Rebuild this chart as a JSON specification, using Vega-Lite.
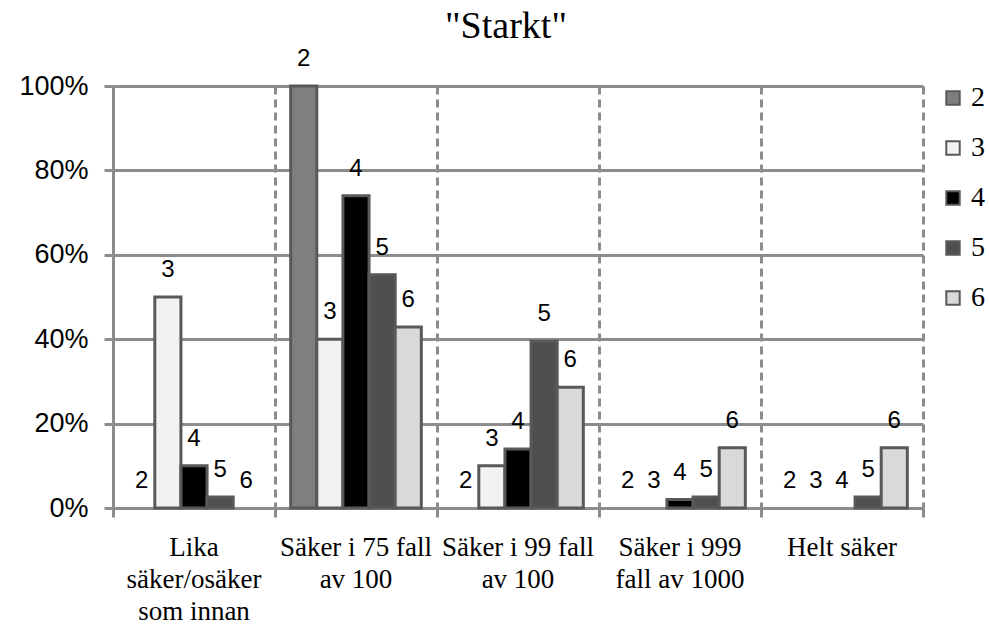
{
  "$schema": "https://vega.github.io/schema/vega-lite/v6.json",
  "width": 810,
  "height": 422,
  "autosize": {"type": "none"},
  "padding": {"left": 113, "top": 86, "right": 66, "bottom": 118},
  "background": "white",
  "config": {"view": {"stroke": null}},
  "title": {"text": "\"Starkt\"", "font": "Liberation Serif", "fontSize": 38, "fontWeight": "normal", "color": "black", "anchor": "middle", "offset": 1, "dx": -12},
  "data": {"values": [
    {"kategori": "Lika|säker/osäker|som innan", "serie": "2", "andel": 0},
    {"kategori": "Lika|säker/osäker|som innan", "serie": "3", "andel": 50},
    {"kategori": "Lika|säker/osäker|som innan", "serie": "4", "andel": 10},
    {"kategori": "Lika|säker/osäker|som innan", "serie": "5", "andel": 2.6},
    {"kategori": "Lika|säker/osäker|som innan", "serie": "6", "andel": 0},
    {"kategori": "Säker i 75 fall|av 100", "serie": "2", "andel": 100},
    {"kategori": "Säker i 75 fall|av 100", "serie": "3", "andel": 40},
    {"kategori": "Säker i 75 fall|av 100", "serie": "4", "andel": 74},
    {"kategori": "Säker i 75 fall|av 100", "serie": "5", "andel": 55.3},
    {"kategori": "Säker i 75 fall|av 100", "serie": "6", "andel": 42.9},
    {"kategori": "Säker i 99 fall|av 100", "serie": "2", "andel": 0},
    {"kategori": "Säker i 99 fall|av 100", "serie": "3", "andel": 10},
    {"kategori": "Säker i 99 fall|av 100", "serie": "4", "andel": 14},
    {"kategori": "Säker i 99 fall|av 100", "serie": "5", "andel": 39.5},
    {"kategori": "Säker i 99 fall|av 100", "serie": "6", "andel": 28.6},
    {"kategori": "Säker i 999|fall av 1000", "serie": "2", "andel": 0},
    {"kategori": "Säker i 999|fall av 1000", "serie": "3", "andel": 0},
    {"kategori": "Säker i 999|fall av 1000", "serie": "4", "andel": 2},
    {"kategori": "Säker i 999|fall av 1000", "serie": "5", "andel": 2.6},
    {"kategori": "Säker i 999|fall av 1000", "serie": "6", "andel": 14.3},
    {"kategori": "Helt säker", "serie": "2", "andel": 0},
    {"kategori": "Helt säker", "serie": "3", "andel": 0},
    {"kategori": "Helt säker", "serie": "4", "andel": 0},
    {"kategori": "Helt säker", "serie": "5", "andel": 2.6},
    {"kategori": "Helt säker", "serie": "6", "andel": 14.3}
  ]},
  "encoding": {
    "x": {
      "field": "kategori", "type": "nominal", "sort": null,
      "scale": {"paddingInner": 0, "paddingOuter": 0},
      "axis": {
        "title": null, "labelAngle": 0,
        "labelExpr": "split(datum.label, '|')",
        "labelFont": "Liberation Serif", "labelFontSize": 27, "labelColor": "black", "labelLineHeight": 32,
        "labelPadding": 17, "labelLimit": 300,
        "domainColor": "#8c8c8c", "domainWidth": 3,
        "tickColor": "#8c8c8c", "tickWidth": 3, "tickSize": 9,
        "bandPosition": 1, "tickExtra": true,
        "grid": true, "gridColor": "#8c8c8c", "gridWidth": 3, "gridDash": [8, 5]
      }
    },
    "xOffset": {"field": "serie", "type": "nominal", "sort": ["2", "3", "4", "5", "6"], "scale": {"paddingInner": 0, "paddingOuter": 0.6}},
    "y": {
      "field": "andel", "type": "quantitative",
      "scale": {"domain": [0, 100], "nice": false},
      "axis": {
        "title": null, "values": [0, 20, 40, 60, 80, 100],
        "labelExpr": "datum.value + '%'",
        "labelFont": "Liberation Sans", "labelFontSize": 27, "labelColor": "black", "labelPadding": 16,
        "domainColor": "#8c8c8c", "domainWidth": 3,
        "tickColor": "#8c8c8c", "tickWidth": 3, "tickSize": 9,
        "grid": true, "gridColor": "#8c8c8c", "gridWidth": 3
      }
    }
  },
  "layer": [
    {
      "transform": [{"filter": "datum.andel > 0"}],
      "mark": {"type": "bar", "stroke": "#595959", "strokeWidth": 3},
      "encoding": {
        "fill": {
          "field": "serie", "type": "nominal",
          "scale": {"domain": ["2", "3", "4", "5", "6"], "range": ["#7f7f7f", "#f2f2f2", "#000000", "#4f4f4f", "#d9d9d9"]},
          "legend": {
            "title": null, "orient": "none", "legendX": 826, "legendY": -2, "padding": 0,
            "symbolType": "square", "symbolSize": 180, "symbolStrokeColor": "#595959", "symbolStrokeWidth": 2, "symbolOpacity": 1,
            "labelFont": "Liberation Serif", "labelFontSize": 28, "labelColor": "black", "labelOffset": 4,
            "rowPadding": 22
          }
        }
      }
    },
    {
      "mark": {"type": "text", "font": "Liberation Sans", "fontSize": 24, "color": "black", "baseline": "middle", "dy": -27},
      "encoding": {"text": {"field": "serie"}}
    }
  ]
}
